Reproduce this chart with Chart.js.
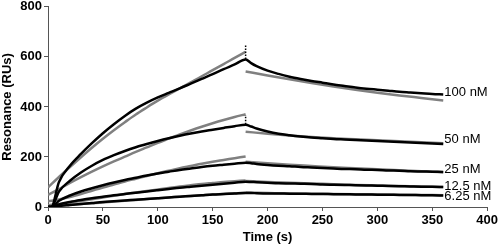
<!DOCTYPE html>
<html>
<head>
<meta charset="utf-8">
<script src="https://cdn.jsdelivr.net/npm/chart.js@4/dist/chart.umd.min.js"></script>
<style>
  html, body { margin: 0; padding: 0; background: #fff; }
  #wrap { width: 500px; height: 246px; }
</style>
</head>
<body>
<div id="wrap"><canvas id="sprChart"></canvas></div>
<script>
// concentrations (labels at the right end of the curves)
var concLabels = ['100 nM', '50 nM', '25 nM', '12.5 nM', '6.25 nM'];
var labelTime = 361;
var labelValue = [460, 271, 149, 83, 43];

// measured response, association phase
var dataAssocTime = [0, 3, 10, 20, 30, 40, 50, 60, 70, 80, 90, 100, 110, 120, 130, 140, 150, 160, 170, 180];
var dataAssoc100 = [0, 0, 100, 165, 212, 255, 295, 331, 364, 393, 417, 438, 456, 474, 493, 512, 531, 551, 570, 590];
var dataAssoc50 = [0, 0, 62, 105, 138, 165, 188, 207, 224, 239, 252, 264, 275, 285, 294, 302, 309, 316, 323, 329];
var dataAssoc25 = [0, 0, 25, 46, 62, 75, 87, 98, 108, 117, 126, 134, 141, 148, 154, 160, 165, 169, 173, 177];
var dataAssoc12 = [0, 0, 10, 20, 28, 35, 41, 47, 52, 57, 62, 67, 72, 77, 81, 85, 89, 93, 97, 101];
var dataAssoc6 = [0, 0, 4, 8, 12, 16, 20, 23, 26, 29, 32, 35, 38, 41, 44, 47, 50, 52, 54, 56];

// measured response, dissociation phase
var dataDissocTime = [180, 185, 190, 200, 210, 220, 230, 240, 250, 260, 270, 280, 290, 300, 310, 320, 330, 340, 350, 360];
var dataDissoc100 = [590, 575, 563, 545, 532, 521, 512, 504, 497, 490, 484, 478, 473, 469, 465, 461, 458, 455, 452, 450];
var dataDissoc50 = [329, 322, 314, 302, 293, 287, 282, 278, 275, 272, 270, 268, 266, 264, 262, 260, 258, 256, 254, 252];
var dataDissoc25 = [177, 175, 172, 168, 165, 163, 160, 158, 156, 154, 152, 151, 149, 148, 146, 145, 143, 142, 141, 140];
var dataDissoc12 = [101, 100, 99, 97, 95, 94, 93, 92, 90, 89, 88, 87, 86, 85, 84, 83, 82, 81, 81, 80];
var dataDissoc6 = [56, 56, 55, 54, 54, 53, 53, 52, 52, 51, 51, 50, 50, 49, 49, 48, 48, 47, 47, 46];

// fitted curves
var fitAssocTime = [0, 10, 20, 30, 40, 50, 60, 70, 80, 90, 100, 110, 120, 130, 140, 150, 160, 170, 180];
var fitAssoc100 = [78, 120, 160, 199, 237, 273, 307, 339, 370, 398, 425, 450, 474, 498, 522, 547, 571, 596, 620];
var fitAssoc50 = [48, 72, 96, 119, 141, 162, 182, 201, 220, 238, 256, 273, 290, 306, 321, 335, 348, 360, 371];
var fitAssoc25 = [22, 30, 40, 52, 65, 78, 90, 102, 113, 124, 135, 145, 155, 164, 173, 181, 188, 195, 202];
var fitAssoc12 = [8, 12, 17, 24, 31, 38, 45, 52, 58, 64, 70, 76, 82, 87, 92, 96, 100, 103, 106];
var fitAssoc6 = [4, 6, 9, 12, 15, 18, 22, 25, 28, 32, 35, 38, 41, 44, 47, 50, 52, 55, 57];

var fitDissocTime = [180, 200, 220, 240, 260, 280, 300, 320, 340, 360];
var fitDissoc100 = [542, 526, 511, 496, 482, 469, 457, 446, 436, 426];
var fitDissoc50 = [301, 293, 286, 280, 275, 271, 267, 263, 259, 255];
var fitDissoc25 = [181, 175, 169, 164, 159, 155, 151, 147, 143, 139];
var fitDissoc12 = [104, 100, 97, 94, 91, 88, 86, 84, 82, 80];
var fitDissoc6 = [58, 56, 54, 53, 52, 51, 50, 49, 48, 47];

// injection stop artefacts
var spikeTime = [180, 180];
var spike100 = [592, 652];
var spike50 = [331, 368];

function toPoints(xs, ys) {
  var pts = [];
  for (var i = 0; i < xs.length; i++) {
    pts.push({x: xs[i], y: ys[i]});
  }
  return pts;
}

var dataAssoc = [dataAssoc100, dataAssoc50, dataAssoc25, dataAssoc12, dataAssoc6];
var dataDissoc = [dataDissoc100, dataDissoc50, dataDissoc25, dataDissoc12, dataDissoc6];
var fitAssoc = [fitAssoc100, fitAssoc50, fitAssoc25, fitAssoc12, fitAssoc6];
var fitDissoc = [fitDissoc100, fitDissoc50, fitDissoc25, fitDissoc12, fitDissoc6];

var datasets = [];
for (var c = 0; c < concLabels.length; c++) {
  datasets.push({
    label: concLabels[c],
    data: toPoints(dataAssocTime, dataAssoc[c]).concat(toPoints(dataDissocTime, dataDissoc[c])),
    borderColor: '#000',
    borderWidth: 2.5,
    order: 0
  });
  datasets.push({
    label: concLabels[c] + ' fit',
    data: toPoints(fitAssocTime, fitAssoc[c]),
    borderColor: '#808080',
    borderWidth: 2.5,
    order: 1
  });
  datasets.push({
    label: concLabels[c] + ' fit (off)',
    data: toPoints(fitDissocTime, fitDissoc[c]),
    borderColor: '#808080',
    borderWidth: 2.5,
    order: 1
  });
}
[spike100, spike50].forEach(function(s) {
  datasets.push({
    label: 'spike',
    data: toPoints(spikeTime, s),
    borderColor: '#000',
    borderWidth: 1.5,
    borderDash: [1.5, 1.5],
    cubicInterpolationMode: 'default',
    tension: 0,
    order: 0
  });
});

// concentration labels at the end of each curve
var endLabels = {
  id: 'endLabels',
  afterDatasetsDraw: function(chart) {
    var ctx = chart.ctx;
    var xs = chart.scales.x, ys = chart.scales.y;
    ctx.save();
    ctx.font = '13px "Liberation Sans", Arial, sans-serif';
    ctx.fillStyle = '#000';
    ctx.textAlign = 'left';
    ctx.textBaseline = 'middle';
    for (var i = 0; i < concLabels.length; i++) {
      ctx.fillText(concLabels[i], xs.getPixelForValue(labelTime), ys.getPixelForValue(labelValue[i]));
    }
    ctx.restore();
  }
};

Chart.defaults.font.family = '"Liberation Sans", Arial, sans-serif';
Chart.defaults.color = '#000';

var ctx = document.getElementById('sprChart').getContext('2d');
var chart = new Chart(ctx, {
  type: 'scatter',
  data: { datasets: datasets },
  options: {
    responsive: true,
    maintainAspectRatio: false,
    animation: false,
    showLine: true,
    elements: {
      point: { radius: 0, hoverRadius: 0 },
      line: { cubicInterpolationMode: 'monotone', fill: false }
    },
    layout: { padding: { top: 5, right: 11, left: 0, bottom: 0 } },
    plugins: {
      legend: { display: false },
      tooltip: { enabled: false }
    },
    scales: {
      x: {
        type: 'linear',
        min: 0,
        max: 400,
        ticks: { stepSize: 50, padding: 2, font: { size: 13, weight: 'bold' }, maxRotation: 0 },
        grid: { drawOnChartArea: false, tickLength: 4, color: '#555' },
        border: { color: '#555' },
        title: { display: true, text: 'Time (s)', font: { size: 13, weight: 'bold' }, padding: { top: 0, bottom: 1 } },
        afterFit: function(scale) { scale.height = 39; }
      },
      y: {
        min: 0,
        max: 800,
        ticks: { stepSize: 200, padding: 2, font: { size: 13, weight: 'bold', lineHeight: 0.75 } },
        grid: { drawOnChartArea: false, tickLength: 4, color: '#555' },
        border: { color: '#555' },
        title: { display: true, text: 'Resonance (RUs)', font: { size: 13, weight: 'bold' }, padding: { top: 0, bottom: 0 } },
        afterFit: function(scale) { scale.width = 48; }
      }
    }
  },
  plugins: [endLabels]
});
</script>
</body>
</html>
